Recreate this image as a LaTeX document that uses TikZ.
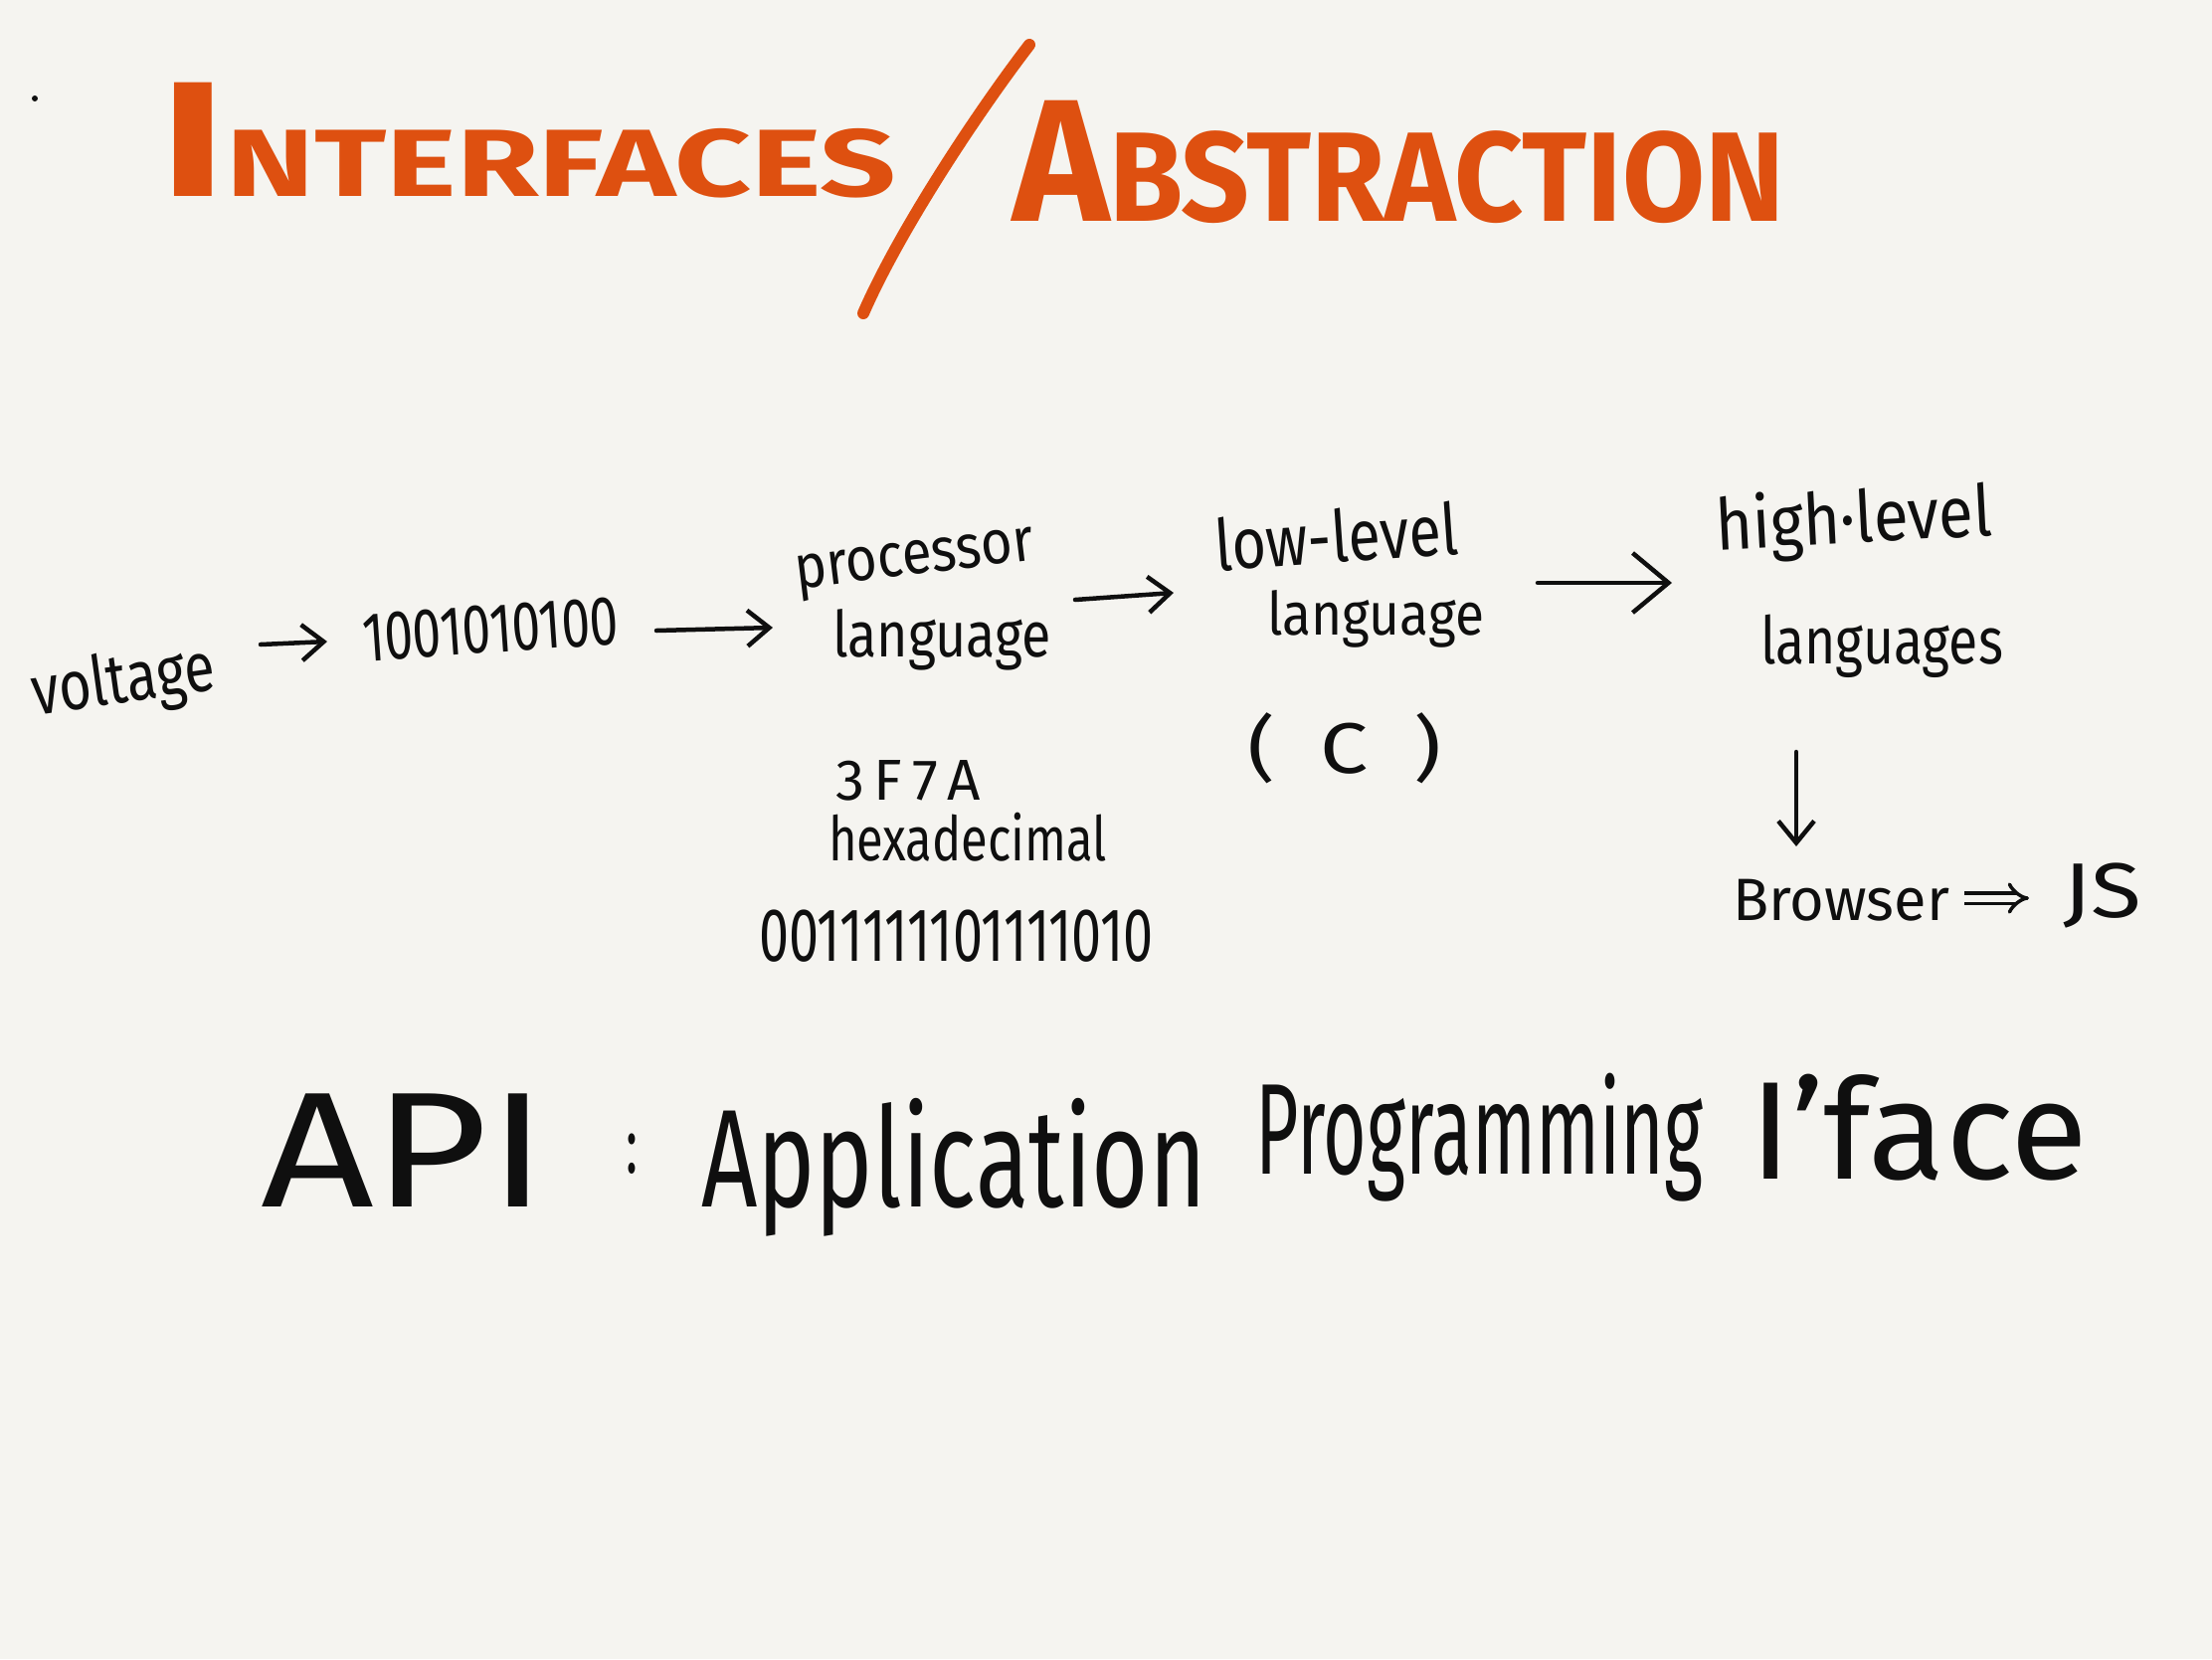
\documentclass[tikz,border=0pt]{standalone}
\usepackage{fontspec}
\setmainfont{Fira Sans}
\usetikzlibrary{arrows.meta}
\definecolor{bgc}{RGB}{245,244,240}
\definecolor{ttl}{RGB}{222,80,16}
\definecolor{ink}{RGB}{15,15,15}
\newcommand\hw[3]{\resizebox{#2pt}{\height}{\fontsize{#1pt}{#1pt}\selectfont #3}}
\begin{document}
\begin{tikzpicture}[x=1pt,y=-1pt,
  txt/.style={inner sep=0pt, outer sep=0pt, anchor=base west, text=ink},
  ttlnode/.style={inner sep=0pt, outer sep=0pt, anchor=base west, text=ttl, font=\bfseries},
  harrow/.style={draw=ink, line width=4.5pt, line cap=round, -{Straight Barb[length=22pt,width=36pt,line width=4.5pt]}},
  bigarrow/.style={draw=ink, line width=4.5pt, line cap=round, -{Straight Barb[length=36pt,width=60pt,line width=4.5pt]}}]
\fill[bgc] (0,0) rectangle (2224,1668);
\useasboundingbox (0,0) rectangle (2224,1668);
% dot
\fill[ink] (35,99) circle (3);
% title
\node[ttlnode] (t1) at (160,197) {\resizebox{741pt}{\height}{\fontsize{165pt}{165pt}\selectfont I\fontsize{96pt}{96pt}\selectfont NTERFACES}};
\node[ttlnode] (t2) at (1018,222) {\resizebox{776pt}{\height}{\fontsize{175pt}{175pt}\selectfont A\fontsize{128pt}{128pt}\selectfont BSTRACTION}};
\draw[ttl, line width=12pt, line cap=round] (1035,45) .. controls (985,110) and (905,230) .. (868,315);
% chain
\node[txt, rotate=8] (volt) at (35,719) {\hw{70}{185}{voltage}};
\node[txt, rotate=4] (bits) at (366,665) {\hw{70}{258}{1001010100}};
\node[txt, rotate=7] (proc1) at (801,592) {\hw{62}{242}{processor}};
\node[txt] (proc2) at (837,660) {\hw{64}{220}{language}};
\node[txt, rotate=4] (low1) at (1223,574) {\hw{72}{245}{low-level}};
\node[txt] (low2) at (1274,638) {\hw{60}{218}{language}};
\node[txt, anchor=center] (cc) at (1352,752) {\hw{72}{195}{(\ \ C\ \ )}};
\node[txt, rotate=3] (hl1) at (1726,553) {\hw{72}{278}{high·level}};
\node[txt] (hl2) at (1770,667) {\hw{66}{244}{languages}};
\node[txt] (hex1) at (840,804) {\hw{58}{146}{3\,F\,7\,A}};
\node[txt] (hex2) at (833,865) {\hw{62}{280}{hexadecimal}};
\node[txt] (bin) at (763,966) {\hw{76}{397}{0011111101111010}};
\node[txt] (brow) at (1742,925) {\hw{60}{218}{Browser}};
\node[txt] (js) at (2074,922) {\hw{78}{79}{JS}};
% API line
\node[txt] (api) at (262,1213) {\hw{165}{288}{API}};
\node[txt, anchor=center] (colon) at (635,1160) {\hw{80}{12}{:}};
\node[txt] (app) at (705,1213) {\hw{140}{508}{Application}};
\node[txt] (prog) at (1262,1180) {\hw{130}{450}{Programming}};
\node[txt] (iface) at (1759,1185) {\hw{140}{340}{I’face}};
% arrows
\coordinate (a1s) at (262,648); \coordinate (a1e) at (329,645);
\coordinate (a2s) at (660,634); \coordinate (a2e) at (777,631);
\coordinate (a3s) at (1081,603); \coordinate (a3e) at (1180,596);
\coordinate (a4s) at (1546,586); \coordinate (a4e) at (1681,586);
\coordinate (a5s) at (1806,756); \coordinate (a5e) at (1806,851);
\coordinate (a6s) at (1975,903); \coordinate (a6e) at (2040,903);
\draw[harrow] (a1s) -- (a1e);
\draw[harrow] (a2s) -- (a2e);
\draw[harrow] (a3s) -- (a3e);
\draw[bigarrow] (a4s) -- (a4e);
\draw[harrow] (a5s) -- (a5e);
\draw[draw=ink, line width=3.5pt, double=bgc, double distance=7pt, -{Implies[length=18pt,width=30pt]}] (a6s) -- (a6e);
\end{tikzpicture}
\end{document}
